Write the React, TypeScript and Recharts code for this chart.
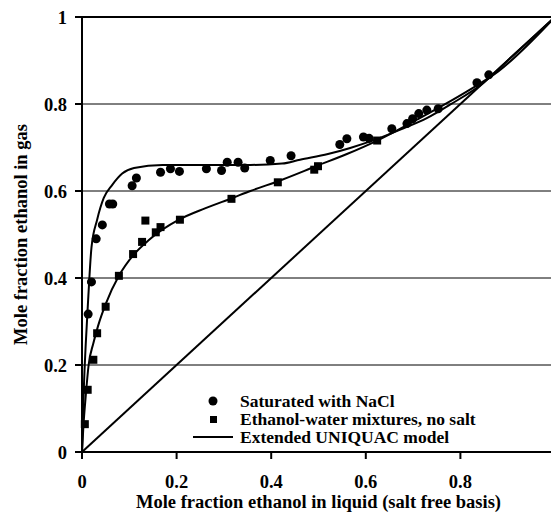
import React from 'react';
import {
  ComposedChart,
  Line,
  Scatter,
  XAxis,
  YAxis,
  CartesianGrid,
  ReferenceLine,
  Label,
} from 'recharts';

// Saturated with NaCl (measured)
const naclX = [0.013, 0.02, 0.03, 0.043, 0.058, 0.065, 0.106, 0.115, 0.166, 0.187, 0.206, 0.263, 0.295, 0.307, 0.33, 0.344, 0.398, 0.442, 0.545, 0.56, 0.595, 0.607, 0.655, 0.687, 0.699, 0.712, 0.729, 0.753, 0.835, 0.86];
const naclY = [0.317, 0.391, 0.49, 0.522, 0.57, 0.57, 0.612, 0.63, 0.643, 0.651, 0.645, 0.651, 0.647, 0.666, 0.666, 0.653, 0.67, 0.681, 0.707, 0.72, 0.724, 0.721, 0.743, 0.755, 0.766, 0.778, 0.786, 0.789, 0.849, 0.867];

// Ethanol-water, no salt (measured)
const waterX = [0.006, 0.012, 0.024, 0.032, 0.05, 0.078, 0.108, 0.127, 0.134, 0.156, 0.166, 0.207, 0.316, 0.414, 0.491, 0.499, 0.624];
const waterY = [0.064, 0.143, 0.212, 0.273, 0.334, 0.405, 0.455, 0.483, 0.532, 0.505, 0.517, 0.534, 0.582, 0.62, 0.649, 0.657, 0.716];

// Extended UNIQUAC model curves
const modelNaclX = [0, 0.004, 0.008, 0.013, 0.02, 0.032, 0.046, 0.064, 0.085, 0.11, 0.17, 0.25, 0.356, 0.423, 0.461, 0.52, 0.567, 0.62, 0.673, 0.73, 0.779, 0.849, 0.9, 1];
const modelNaclY = [0, 0.15, 0.25, 0.35, 0.47, 0.534, 0.584, 0.614, 0.64, 0.653, 0.66, 0.66, 0.66, 0.663, 0.672, 0.685, 0.699, 0.718, 0.741, 0.768, 0.799, 0.849, 0.9, 1];
const modelWaterX = [0, 0.003, 0.008, 0.014, 0.024, 0.034, 0.05, 0.078, 0.108, 0.142, 0.205, 0.26, 0.318, 0.356, 0.423, 0.497, 0.56, 0.624, 0.708, 0.814, 0.88, 1];
const modelWaterY = [0, 0.06, 0.13, 0.2, 0.25, 0.29, 0.34, 0.405, 0.452, 0.488, 0.534, 0.56, 0.584, 0.6, 0.626, 0.658, 0.685, 0.716, 0.764, 0.829, 0.875, 1];

const diagX = [0, 1];
const diagY = [0, 1];

const xTicks = [0, 0.2, 0.4, 0.6, 0.8];
const yTicks = [0, 0.2, 0.4, 0.6, 0.8, 1];

const zip = (xs: number[], ys: number[]) => xs.map((x, i) => ({ x, y: ys[i] }));

const font = '"Liberation Serif", "Times New Roman", serif';
const textStyle = { fill: '#000', fontSize: 18.5, fontWeight: 'bold', fontFamily: font };

function LegendBox() {
  const row = { display: 'flex', alignItems: 'center', height: 18 } as const;
  const icon = { width: 46, display: 'flex', justifyContent: 'center', marginRight: 4 } as const;
  return (
    <div
      style={{
        position: 'absolute',
        left: 190,
        top: 392,
        fontFamily: font,
        fontWeight: 'bold',
        fontSize: 17.5,
        color: '#000',
        lineHeight: '18px',
        whiteSpace: 'nowrap',
      }}
    >
      <div style={row}>
        <div style={icon}>
          <svg width={10} height={10}><circle cx={5} cy={5} r={4.5} fill="#000" /></svg>
        </div>
        <span>Saturated with NaCl</span>
      </div>
      <div style={row}>
        <div style={icon}>
          <svg width={7} height={7}><rect x={0} y={0} width={7} height={7} fill="#000" /></svg>
        </div>
        <span>Ethanol-water mixtures, no salt</span>
      </div>
      <div style={row}>
        <div style={icon}>
          <svg width={40} height={4}><line x1={0} y1={2} x2={40} y2={2} stroke="#000" strokeWidth={2} /></svg>
        </div>
        <span>Extended UNIQUAC model</span>
      </div>
    </div>
  );
}

export default function App() {
  return (
    <div style={{ position: 'absolute', left: 0, top: 0, width: 551, height: 512, overflow: 'hidden', background: '#fff' }}>
      <ComposedChart
        width={570}
        height={512}
        margin={{ top: 17, right: 15, bottom: 0, left: 0 }}
        style={{ fontFamily: font }}
      >
        <CartesianGrid vertical={false} stroke="#000" strokeWidth={1} />
        <XAxis
          type="number"
          dataKey="x"
          domain={[0, 1]}
          ticks={xTicks}
          height={60}
          tickSize={7}
          tickMargin={16}
          axisLine={{ stroke: '#000', strokeWidth: 2 }}
          tickLine={{ stroke: '#000', strokeWidth: 2 }}
          tick={textStyle}
          tickFormatter={(v: number) => String(v)}
        >
          <Label
            value="Mole fraction ethanol in liquid (salt free basis)"
            position="insideBottom"
            offset={4}
            style={textStyle}
          />
        </XAxis>
        <YAxis
          type="number"
          domain={[0, 1]}
          ticks={yTicks}
          width={82}
          tickSize={7}
          tickMargin={8}
          axisLine={{ stroke: '#000', strokeWidth: 2 }}
          tickLine={{ stroke: '#000', strokeWidth: 2 }}
          tick={textStyle}
          tickFormatter={(v: number) => String(v)}
        >
          <Label
            value="Mole fraction ethanol in gas"
            angle={-90}
            position="insideLeft"
            offset={20}
            style={{ ...textStyle, textAnchor: 'middle' }}
          />
        </YAxis>
        <ReferenceLine y={1} stroke="#000" strokeWidth={2} />
        <Line data={zip(diagX, diagY)} dataKey="y" type="linear" stroke="#000" strokeWidth={2} dot={false} isAnimationActive={false} legendType="none" />
        <Line data={zip(modelWaterX, modelWaterY)} dataKey="y" type="monotone" stroke="#000" strokeWidth={2} dot={false} isAnimationActive={false} legendType="none" />
        <Line data={zip(modelNaclX, modelNaclY)} dataKey="y" type="monotone" stroke="#000" strokeWidth={2} dot={false} isAnimationActive={false} legendType="none" />
        <Scatter data={zip(waterX, waterY)} dataKey="y" shape="square" fill="#000" isAnimationActive={false} />
        <Scatter data={zip(naclX, naclY)} dataKey="y" shape="circle" fill="#000" isAnimationActive={false} />
      </ComposedChart>
      <LegendBox />
    </div>
  );
}
